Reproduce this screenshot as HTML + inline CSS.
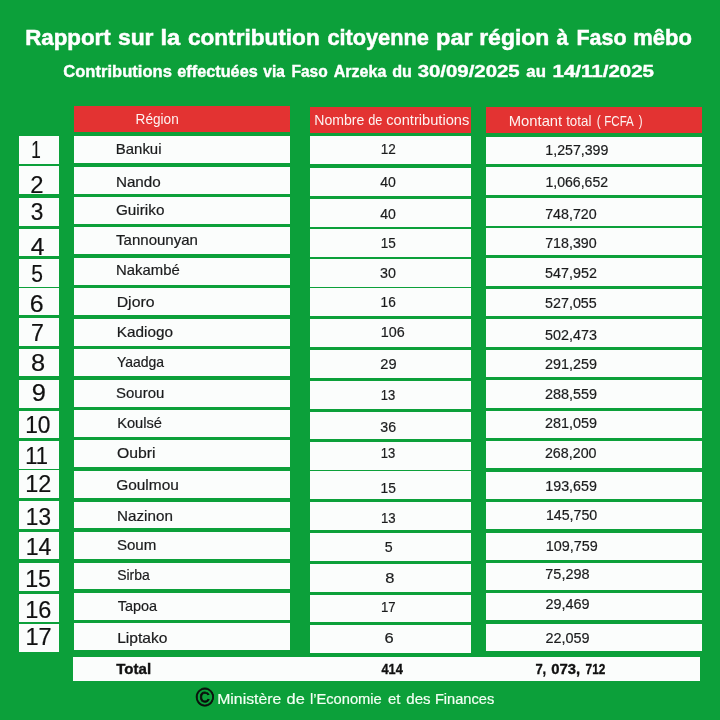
<!DOCTYPE html>
<html lang="fr"><head><meta charset="utf-8"><title>Rapport Faso mêbo</title>
<style>
html,body{margin:0;padding:0;}
body{width:720px;height:720px;background:#0ca03a;position:relative;overflow:hidden;will-change:transform;filter:blur(0.35px);font-family:"Liberation Sans",sans-serif;color:#1b1c1d;}
.b{position:absolute;box-sizing:content-box;}
.t{-webkit-text-stroke:0.2px;position:absolute;left:0;top:0;display:block;white-space:nowrap;line-height:1;transform-origin:0 0;}
</style></head><body>
<div class="b" style="left:74.25px;top:106.4px;width:215.75px;height:25.30px;background:#e33332;"></div>
<div class="b" style="left:309.5px;top:106.75px;width:161.00px;height:26.50px;background:#e33332;"></div>
<div class="b" style="left:485.6px;top:106.75px;width:216.15px;height:26.50px;background:#e33332;"></div>
<div class="b" style="left:18.5px;top:135.8px;width:40.90px;height:28.00px;background:#fbfdfc;"></div>
<div class="b" style="left:74.25px;top:135.9px;width:215.75px;height:27.40px;background:#fbfdfc;"></div>
<div class="b" style="left:309.5px;top:136.3px;width:161.00px;height:27.90px;background:#fbfdfc;"></div>
<div class="b" style="left:485.6px;top:136.7px;width:216.15px;height:27.50px;background:#fbfdfc;"></div>
<div class="b" style="left:18.5px;top:166.3px;width:40.90px;height:27.90px;background:#fbfdfc;"></div>
<div class="b" style="left:74.25px;top:166.7px;width:215.75px;height:27.40px;background:#fbfdfc;"></div>
<div class="b" style="left:309.5px;top:167.5px;width:161.00px;height:28.30px;background:#fbfdfc;"></div>
<div class="b" style="left:485.6px;top:167.4px;width:216.15px;height:27.20px;background:#fbfdfc;"></div>
<div class="b" style="left:18.5px;top:197.5px;width:40.90px;height:28.30px;background:#fbfdfc;"></div>
<div class="b" style="left:74.25px;top:197px;width:215.75px;height:27.00px;background:#fbfdfc;"></div>
<div class="b" style="left:309.5px;top:198.5px;width:161.00px;height:28.00px;background:#fbfdfc;"></div>
<div class="b" style="left:485.6px;top:198px;width:216.15px;height:27.50px;background:#fbfdfc;"></div>
<div class="b" style="left:18.5px;top:228.7px;width:40.90px;height:27.50px;background:#fbfdfc;"></div>
<div class="b" style="left:74.25px;top:227.2px;width:215.75px;height:27.00px;background:#fbfdfc;"></div>
<div class="b" style="left:309.5px;top:229.2px;width:161.00px;height:28.00px;background:#fbfdfc;"></div>
<div class="b" style="left:485.6px;top:228.1px;width:216.15px;height:26.90px;background:#fbfdfc;"></div>
<div class="b" style="left:18.5px;top:259.2px;width:40.90px;height:27.80px;background:#fbfdfc;"></div>
<div class="b" style="left:74.25px;top:257.5px;width:215.75px;height:27.30px;background:#fbfdfc;"></div>
<div class="b" style="left:309.5px;top:259.2px;width:161.00px;height:27.80px;background:#fbfdfc;"></div>
<div class="b" style="left:485.6px;top:258.3px;width:216.15px;height:27.30px;background:#fbfdfc;"></div>
<div class="b" style="left:18.5px;top:287.5px;width:40.90px;height:27.80px;background:#fbfdfc;"></div>
<div class="b" style="left:74.25px;top:288px;width:215.75px;height:27.40px;background:#fbfdfc;"></div>
<div class="b" style="left:309.5px;top:288.3px;width:161.00px;height:27.90px;background:#fbfdfc;"></div>
<div class="b" style="left:485.6px;top:288.7px;width:216.15px;height:27.50px;background:#fbfdfc;"></div>
<div class="b" style="left:18.5px;top:318.3px;width:40.90px;height:27.50px;background:#fbfdfc;"></div>
<div class="b" style="left:74.25px;top:318.7px;width:215.75px;height:27.30px;background:#fbfdfc;"></div>
<div class="b" style="left:309.5px;top:318.8px;width:161.00px;height:27.90px;background:#fbfdfc;"></div>
<div class="b" style="left:485.6px;top:319.2px;width:216.15px;height:27.50px;background:#fbfdfc;"></div>
<div class="b" style="left:18.5px;top:348.7px;width:40.90px;height:27.60px;background:#fbfdfc;"></div>
<div class="b" style="left:74.25px;top:349.2px;width:215.75px;height:27.30px;background:#fbfdfc;"></div>
<div class="b" style="left:309.5px;top:350px;width:161.00px;height:28.30px;background:#fbfdfc;"></div>
<div class="b" style="left:485.6px;top:350px;width:216.15px;height:27.30px;background:#fbfdfc;"></div>
<div class="b" style="left:18.5px;top:379.5px;width:40.90px;height:28.50px;background:#fbfdfc;"></div>
<div class="b" style="left:74.25px;top:379.7px;width:215.75px;height:27.10px;background:#fbfdfc;"></div>
<div class="b" style="left:309.5px;top:381.2px;width:161.00px;height:27.70px;background:#fbfdfc;"></div>
<div class="b" style="left:485.6px;top:380px;width:216.15px;height:27.50px;background:#fbfdfc;"></div>
<div class="b" style="left:18.5px;top:410.8px;width:40.90px;height:27.50px;background:#fbfdfc;"></div>
<div class="b" style="left:74.25px;top:410px;width:215.75px;height:27.00px;background:#fbfdfc;"></div>
<div class="b" style="left:309.5px;top:411.7px;width:161.00px;height:27.80px;background:#fbfdfc;"></div>
<div class="b" style="left:485.6px;top:410.5px;width:216.15px;height:27.00px;background:#fbfdfc;"></div>
<div class="b" style="left:18.5px;top:441px;width:40.90px;height:27.80px;background:#fbfdfc;"></div>
<div class="b" style="left:74.25px;top:440.3px;width:215.75px;height:26.70px;background:#fbfdfc;"></div>
<div class="b" style="left:309.5px;top:442px;width:161.00px;height:28.10px;background:#fbfdfc;"></div>
<div class="b" style="left:485.6px;top:440.8px;width:216.15px;height:27.20px;background:#fbfdfc;"></div>
<div class="b" style="left:18.5px;top:470.3px;width:40.90px;height:27.70px;background:#fbfdfc;"></div>
<div class="b" style="left:74.25px;top:471px;width:215.75px;height:27.00px;background:#fbfdfc;"></div>
<div class="b" style="left:309.5px;top:471.1px;width:161.00px;height:27.90px;background:#fbfdfc;"></div>
<div class="b" style="left:485.6px;top:471.7px;width:216.15px;height:27.10px;background:#fbfdfc;"></div>
<div class="b" style="left:18.5px;top:501.2px;width:40.90px;height:28.00px;background:#fbfdfc;"></div>
<div class="b" style="left:74.25px;top:501.8px;width:215.75px;height:26.70px;background:#fbfdfc;"></div>
<div class="b" style="left:309.5px;top:501.7px;width:161.00px;height:28.10px;background:#fbfdfc;"></div>
<div class="b" style="left:485.6px;top:502.3px;width:216.15px;height:27.10px;background:#fbfdfc;"></div>
<div class="b" style="left:18.5px;top:532.2px;width:40.90px;height:26.60px;background:#fbfdfc;"></div>
<div class="b" style="left:74.25px;top:532.2px;width:215.75px;height:26.90px;background:#fbfdfc;"></div>
<div class="b" style="left:309.5px;top:533.2px;width:161.00px;height:28.00px;background:#fbfdfc;"></div>
<div class="b" style="left:485.6px;top:532.9px;width:216.15px;height:27.10px;background:#fbfdfc;"></div>
<div class="b" style="left:18.5px;top:563px;width:40.90px;height:27.50px;background:#fbfdfc;"></div>
<div class="b" style="left:74.25px;top:562.5px;width:215.75px;height:26.70px;background:#fbfdfc;"></div>
<div class="b" style="left:309.5px;top:564.2px;width:161.00px;height:27.80px;background:#fbfdfc;"></div>
<div class="b" style="left:485.6px;top:563.3px;width:216.15px;height:26.80px;background:#fbfdfc;"></div>
<div class="b" style="left:18.5px;top:593.7px;width:40.90px;height:28.00px;background:#fbfdfc;"></div>
<div class="b" style="left:74.25px;top:592.5px;width:215.75px;height:27.30px;background:#fbfdfc;"></div>
<div class="b" style="left:309.5px;top:594.6px;width:161.00px;height:27.90px;background:#fbfdfc;"></div>
<div class="b" style="left:485.6px;top:593.2px;width:216.15px;height:27.20px;background:#fbfdfc;"></div>
<div class="b" style="left:18.5px;top:624.2px;width:40.90px;height:27.50px;background:#fbfdfc;"></div>
<div class="b" style="left:74.25px;top:623.3px;width:215.75px;height:26.90px;background:#fbfdfc;"></div>
<div class="b" style="left:309.5px;top:625.4px;width:161.00px;height:27.90px;background:#fbfdfc;"></div>
<div class="b" style="left:485.6px;top:624.2px;width:216.15px;height:26.80px;background:#fbfdfc;"></div>
<div class="b" style="left:73.25px;top:657px;width:626.75px;height:24.00px;background:#fbfdfc;"></div>
<div class="g title">
<span class="t" style="font-size:22.2px;transform:translate(25.14px,27.00px) scaleX(1.0067);font-weight:700;color:#ffffff;-webkit-text-stroke:0.5px;">Rapport</span>
<span class="t" style="font-size:22.2px;transform:translate(117.90px,27.00px) scaleX(1.0319);font-weight:700;color:#ffffff;-webkit-text-stroke:0.5px;">sur</span>
<span class="t" style="font-size:22.2px;transform:translate(160.51px,27.00px) scaleX(1.0645);font-weight:700;color:#ffffff;-webkit-text-stroke:0.5px;">la</span>
<span class="t" style="font-size:22.2px;transform:translate(187.98px,27.00px) scaleX(1.0177);font-weight:700;color:#ffffff;-webkit-text-stroke:0.5px;">contribution</span>
<span class="t" style="font-size:22.2px;transform:translate(327.38px,27.00px) scaleX(0.9798);font-weight:700;color:#ffffff;-webkit-text-stroke:0.5px;">citoyenne</span>
<span class="t" style="font-size:22.2px;transform:translate(436.09px,27.00px) scaleX(1.0615);font-weight:700;color:#ffffff;-webkit-text-stroke:0.5px;">par</span>
<span class="t" style="font-size:22.2px;transform:translate(479.19px,27.00px) scaleX(1.0347);font-weight:700;color:#ffffff;-webkit-text-stroke:0.5px;">région</span>
<span class="t" style="font-size:22.2px;transform:translate(556.56px,27.00px) scaleX(0.9482);font-weight:700;color:#ffffff;-webkit-text-stroke:0.5px;">à</span>
<span class="t" style="font-size:22.2px;transform:translate(576.46px,27.00px) scaleX(0.9656);font-weight:700;color:#ffffff;-webkit-text-stroke:0.5px;">Faso</span>
<span class="t" style="font-size:22.2px;transform:translate(633.14px,27.00px) scaleX(0.9916);font-weight:700;color:#ffffff;-webkit-text-stroke:0.5px;">mêbo</span>
</div>
<div class="g sub">
<span class="t" style="font-size:16.7px;transform:translate(63.29px,64.45px) scaleX(0.9926);font-weight:700;color:#ffffff;-webkit-text-stroke:0.4px;">Contributions</span>
<span class="t" style="font-size:16.7px;transform:translate(177.32px,64.45px) scaleX(0.9741);font-weight:700;color:#ffffff;-webkit-text-stroke:0.4px;">effectuées</span>
<span class="t" style="font-size:16.7px;transform:translate(263.34px,64.45px) scaleX(0.9255);font-weight:700;color:#ffffff;-webkit-text-stroke:0.4px;">via</span>
<span class="t" style="font-size:16.7px;transform:translate(291.43px,64.45px) scaleX(0.9299);font-weight:700;color:#ffffff;-webkit-text-stroke:0.4px;">Faso</span>
<span class="t" style="font-size:16.7px;transform:translate(333.74px,64.45px) scaleX(0.9609);font-weight:700;color:#ffffff;-webkit-text-stroke:0.4px;">Arzeka</span>
<span class="t" style="font-size:16.7px;transform:translate(392.20px,64.45px) scaleX(0.9655);font-weight:700;color:#ffffff;-webkit-text-stroke:0.4px;">du</span>
<span class="t" style="font-size:16.7px;transform:translate(417.64px,64.45px) scaleX(1.2217);font-weight:700;color:#ffffff;-webkit-text-stroke:0.4px;">30/09/2025</span>
<span class="t" style="font-size:16.7px;transform:translate(526.37px,64.45px) scaleX(1.0075);font-weight:700;color:#ffffff;-webkit-text-stroke:0.4px;">au</span>
<span class="t" style="font-size:16.7px;transform:translate(552.58px,64.45px) scaleX(1.2273);font-weight:700;color:#ffffff;-webkit-text-stroke:0.4px;">14/11/2025</span>
</div>
<span class="t" style="font-size:14.4px;transform:translate(135.58px,111.80px) scaleX(0.9460);color:#fdf3f1;-webkit-text-stroke:0px;">Région</span>
<div class="g h2">
<span class="t" style="font-size:14.4px;transform:translate(314.28px,113.00px) scaleX(0.9789);color:#fdf3f1;-webkit-text-stroke:0px;">Nombre</span>
<span class="t" style="font-size:14.4px;transform:translate(368.19px,113.00px) scaleX(0.8866);color:#fdf3f1;-webkit-text-stroke:0px;">de</span>
<span class="t" style="font-size:14.4px;transform:translate(386.18px,113.00px) scaleX(1.0185);color:#fdf3f1;-webkit-text-stroke:0px;">contributions</span>
</div>
<div class="g h3">
<span class="t" style="font-size:14.4px;transform:translate(508.75px,113.50px) scaleX(1.0280);color:#fdf3f1;-webkit-text-stroke:0px;">Montant</span>
<span class="t" style="font-size:14.4px;transform:translate(566.16px,113.50px) scaleX(0.9269);color:#fdf3f1;-webkit-text-stroke:0px;">total</span>
<span class="t" style="font-size:14.4px;transform:translate(596.77px,113.50px) scaleX(0.8383);color:#fdf3f1;-webkit-text-stroke:0px;">(</span>
<span class="t" style="font-size:14.4px;transform:translate(604.18px,113.50px) scaleX(0.8053);color:#fdf3f1;-webkit-text-stroke:0px;">FCFA</span>
<span class="t" style="font-size:14.4px;transform:translate(638.80px,113.50px) scaleX(0.7969);color:#fdf3f1;-webkit-text-stroke:0px;">)</span>
</div>
<span class="t" style="font-size:23.6px;transform:translate(31.32px,138.50px) scaleX(0.7276);color:#111111;">1</span>
<span class="t" style="font-size:14.5px;transform:translate(115.80px,141.75px) scaleX(1.0302);">Bankui</span>
<span class="t" style="font-size:14.6px;transform:translate(380.77px,142.20px) scaleX(0.9286);">12</span>
<span class="t" style="font-size:14.6px;transform:translate(545.31px,143.20px) scaleX(0.9716);">1,257,399</span>
<span class="t" style="font-size:23.6px;transform:translate(30.20px,174.20px) scaleX(1.0102);color:#111111;">2</span>
<span class="t" style="font-size:14.5px;transform:translate(115.90px,174.55px) scaleX(1.0500);">Nando</span>
<span class="t" style="font-size:14.6px;transform:translate(380.30px,175.40px) scaleX(0.9637);">40</span>
<span class="t" style="font-size:14.6px;transform:translate(545.40px,174.70px) scaleX(0.9654);">1,066,652</span>
<span class="t" style="font-size:23.6px;transform:translate(30.82px,201.20px) scaleX(0.9599);color:#111111;">3</span>
<span class="t" style="font-size:14.5px;transform:translate(115.95px,203.05px) scaleX(1.0550);">Guiriko</span>
<span class="t" style="font-size:14.6px;transform:translate(380.30px,206.50px) scaleX(0.9637);">40</span>
<span class="t" style="font-size:14.6px;transform:translate(545.17px,207.40px) scaleX(0.9763);">748,720</span>
<span class="t" style="font-size:23.6px;transform:translate(30.81px,235.90px) scaleX(1.0420);color:#111111;">4</span>
<span class="t" style="font-size:14.5px;transform:translate(116.10px,232.75px) scaleX(1.0352);">Tannounyan</span>
<span class="t" style="font-size:14.6px;transform:translate(380.66px,235.50px) scaleX(0.9283);">15</span>
<span class="t" style="font-size:14.6px;transform:translate(545.17px,236.20px) scaleX(0.9763);">718,390</span>
<span class="t" style="font-size:23.6px;transform:translate(31.28px,262.90px) scaleX(0.8914);color:#111111;">5</span>
<span class="t" style="font-size:14.5px;transform:translate(116.08px,263.45px) scaleX(1.0257);">Nakambé</span>
<span class="t" style="font-size:14.6px;transform:translate(380.00px,265.70px) scaleX(0.9789);">30</span>
<span class="t" style="font-size:14.6px;transform:translate(545.11px,265.70px) scaleX(0.9806);">547,952</span>
<span class="t" style="font-size:23.6px;transform:translate(29.66px,292.90px) scaleX(1.0572);color:#111111;">6</span>
<span class="t" style="font-size:14.5px;transform:translate(116.67px,295.45px) scaleX(1.0927);">Djoro</span>
<span class="t" style="font-size:14.6px;transform:translate(380.62px,294.90px) scaleX(0.9346);">16</span>
<span class="t" style="font-size:14.6px;transform:translate(545.11px,295.90px) scaleX(0.9793);">527,055</span>
<span class="t" style="font-size:23.6px;transform:translate(31.06px,322.00px) scaleX(0.9807);color:#111111;">7</span>
<span class="t" style="font-size:14.5px;transform:translate(116.86px,324.95px) scaleX(1.0560);">Kadiogo</span>
<span class="t" style="font-size:14.6px;transform:translate(380.78px,325.40px) scaleX(0.9836);">106</span>
<span class="t" style="font-size:14.6px;transform:translate(545.07px,328.20px) scaleX(0.9820);">502,473</span>
<span class="t" style="font-size:23.6px;transform:translate(31.11px,351.50px) scaleX(1.0771);color:#111111;">8</span>
<span class="t" style="font-size:14.5px;transform:translate(116.94px,354.95px) scaleX(0.9638);">Yaadga</span>
<span class="t" style="font-size:14.6px;transform:translate(380.31px,356.50px) scaleX(1.0018);">29</span>
<span class="t" style="font-size:14.6px;transform:translate(545.08px,356.50px) scaleX(0.9859);">291,259</span>
<span class="t" style="font-size:23.6px;transform:translate(31.78px,381.70px) scaleX(1.0763);color:#111111;">9</span>
<span class="t" style="font-size:14.5px;transform:translate(116.05px,386.05px) scaleX(1.0311);">Sourou</span>
<span class="t" style="font-size:14.6px;transform:translate(380.86px,388.00px) scaleX(0.8927);">13</span>
<span class="t" style="font-size:14.6px;transform:translate(545.08px,387.40px) scaleX(0.9859);">288,559</span>
<span class="t" style="font-size:23.6px;transform:translate(25.23px,413.70px) scaleX(0.9629);color:#111111;">10</span>
<span class="t" style="font-size:14.5px;transform:translate(117.20px,416.25px) scaleX(1.0099);">Koulsé</span>
<span class="t" style="font-size:14.6px;transform:translate(380.28px,420.40px) scaleX(0.9724);">36</span>
<span class="t" style="font-size:14.6px;transform:translate(545.08px,415.50px) scaleX(0.9859);">281,059</span>
<span class="t" style="font-size:23.6px;transform:translate(25.27px,444.70px) scaleX(0.9293);color:#111111;">11</span>
<span class="t" style="font-size:14.5px;transform:translate(116.90px,446.25px) scaleX(1.0883);">Oubri</span>
<span class="t" style="font-size:14.6px;transform:translate(380.86px,445.50px) scaleX(0.8927);">13</span>
<span class="t" style="font-size:14.6px;transform:translate(544.92px,445.90px) scaleX(0.9782);">268,200</span>
<span class="t" style="font-size:23.6px;transform:translate(25.19px,473.40px) scaleX(0.9923);color:#111111;">12</span>
<span class="t" style="font-size:14.5px;transform:translate(116.15px,478.45px) scaleX(1.0649);">Goulmou</span>
<span class="t" style="font-size:14.6px;transform:translate(380.62px,481.20px) scaleX(0.9435);">15</span>
<span class="t" style="font-size:14.6px;transform:translate(545.26px,479.20px) scaleX(0.9790);">193,659</span>
<span class="t" style="font-size:23.6px;transform:translate(25.86px,505.70px) scaleX(0.9569);color:#111111;">13</span>
<span class="t" style="font-size:14.5px;transform:translate(117.09px,508.55px) scaleX(1.0478);">Nazinon</span>
<span class="t" style="font-size:14.6px;transform:translate(380.89px,510.50px) scaleX(0.9039);">13</span>
<span class="t" style="font-size:14.6px;transform:translate(545.88px,507.70px) scaleX(0.9744);">145,750</span>
<span class="t" style="font-size:23.6px;transform:translate(25.80px,535.90px) scaleX(0.9766);color:#111111;">14</span>
<span class="t" style="font-size:14.5px;transform:translate(116.90px,538.25px) scaleX(1.0415);">Soum</span>
<span class="t" style="font-size:14.6px;transform:translate(384.80px,539.70px) scaleX(0.9724);">5</span>
<span class="t" style="font-size:14.6px;transform:translate(545.77px,539.00px) scaleX(0.9850);">109,759</span>
<span class="t" style="font-size:23.6px;transform:translate(25.14px,568.40px) scaleX(0.9859);color:#111111;">15</span>
<span class="t" style="font-size:14.5px;transform:translate(117.14px,567.75px) scaleX(0.9652);">Sirba</span>
<span class="t" style="font-size:14.6px;transform:translate(385.31px,571.00px) scaleX(1.1282);">8</span>
<span class="t" style="font-size:14.6px;transform:translate(545.33px,567.10px) scaleX(0.9911);">75,298</span>
<span class="t" style="font-size:23.6px;transform:translate(25.25px,598.70px) scaleX(0.9970);color:#111111;">16</span>
<span class="t" style="font-size:14.5px;transform:translate(117.65px,599.05px) scaleX(0.9971);">Tapoa</span>
<span class="t" style="font-size:14.6px;transform:translate(380.88px,600.40px) scaleX(0.9043);">17</span>
<span class="t" style="font-size:14.6px;transform:translate(545.39px,596.90px) scaleX(0.9899);">29,469</span>
<span class="t" style="font-size:23.6px;transform:translate(25.48px,625.90px) scaleX(0.9977);color:#111111;">17</span>
<span class="t" style="font-size:14.5px;transform:translate(117.14px,631.25px) scaleX(1.0757);">Liptako</span>
<span class="t" style="font-size:14.6px;transform:translate(384.39px,631.20px) scaleX(1.1307);">6</span>
<span class="t" style="font-size:14.6px;transform:translate(545.39px,630.80px) scaleX(0.9899);">22,059</span>
<div class="g tot">
<span class="t" style="font-size:15.4px;transform:translate(116.25px,661.30px) scaleX(0.9771);font-weight:700;color:#111;-webkit-text-stroke:0.35px;">Total</span>
<span class="t" style="font-size:15.4px;transform:translate(381.47px,661.30px) scaleX(0.8290);font-weight:700;color:#111;-webkit-text-stroke:0.35px;">414</span>
<span class="t" style="font-size:15.4px;transform:translate(535.40px,661.30px) scaleX(0.8417);font-weight:700;color:#111;-webkit-text-stroke:0.35px;">7,</span>
<span class="t" style="font-size:15.4px;transform:translate(551.19px,661.30px) scaleX(0.9681);font-weight:700;color:#111;-webkit-text-stroke:0.35px;">073,</span>
<span class="t" style="font-size:15.4px;transform:translate(585.62px,661.30px) scaleX(0.7708);font-weight:700;color:#111;-webkit-text-stroke:0.35px;">712</span>
</div>
<div class="g foot">
<span class="t" style="font-size:15.3px;transform:translate(217.23px,691.05px) scaleX(1.0310);color:#f4fff4;">Ministère</span>
<span class="t" style="font-size:15.3px;transform:translate(286.60px,691.05px) scaleX(1.0680);color:#f4fff4;">de</span>
<span class="t" style="font-size:15.3px;transform:translate(309.88px,691.05px) scaleX(0.9606);color:#f4fff4;">l’Economie</span>
<span class="t" style="font-size:15.3px;transform:translate(387.88px,691.05px) scaleX(0.9726);color:#f4fff4;">et</span>
<span class="t" style="font-size:15.3px;transform:translate(406.27px,691.05px) scaleX(0.9841);color:#f4fff4;">des</span>
<span class="t" style="font-size:15.3px;transform:translate(434.89px,691.05px) scaleX(0.9556);color:#f4fff4;">Finances</span>
</div>
<span class="t" style="font-size:25px;transform:translate(195.86px,684.60px) scaleX(0.9926);color:#0c0c0c;-webkit-text-stroke:0.75px;">©</span>
</body></html>
